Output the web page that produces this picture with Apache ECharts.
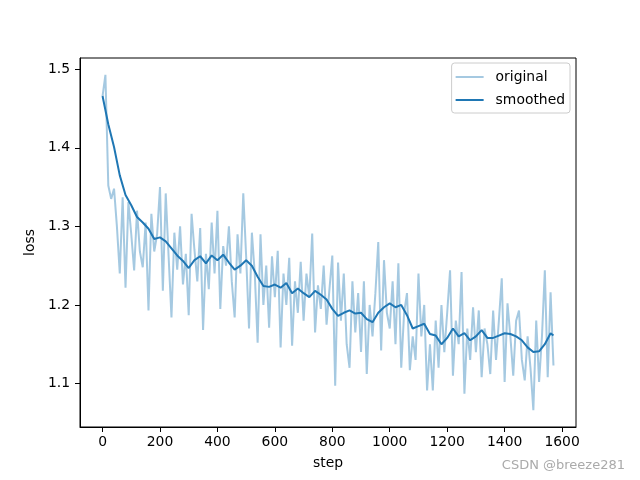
<!DOCTYPE html>
<html><head><meta charset="utf-8">
<script src="https://cdn.jsdelivr.net/npm/echarts@6/dist/echarts.min.js"></script>
<style>html,body{margin:0;padding:0;background:#fff}#c{width:640px;height:480px}</style>
</head><body><div id="c"></div>
<script>
const LOG_INTERVAL = 10;
const originalLoss = [
1.466,1.493,1.352,1.335,1.348,1.300,1.240,1.337,1.222,1.331,
1.290,1.244,1.320,1.268,1.248,1.305,1.193,1.316,1.268,1.290,
1.350,1.218,1.342,1.262,1.184,1.292,1.245,1.300,1.226,1.265,
1.187,1.316,1.270,1.230,1.298,1.168,1.265,1.220,1.305,1.240,
1.320,1.195,1.275,1.250,1.300,1.230,1.184,1.290,1.240,1.342,
1.262,1.170,1.292,1.240,1.152,1.290,1.200,1.250,1.171,1.262,
1.210,1.269,1.146,1.240,1.200,1.260,1.148,1.230,1.190,1.255,
1.180,1.240,1.210,1.291,1.165,1.225,1.195,1.250,1.175,1.220,
1.263,1.097,1.254,1.180,1.240,1.150,1.120,1.230,1.165,1.215,
1.140,1.230,1.112,1.200,1.160,1.215,1.280,1.142,1.257,1.190,
1.170,1.230,1.150,1.253,1.120,1.190,1.215,1.117,1.160,1.130,
1.240,1.160,1.200,1.091,1.150,1.091,1.180,1.120,1.200,1.140,
1.190,1.244,1.110,1.180,1.150,1.242,1.087,1.170,1.130,1.197,
1.140,1.193,1.108,1.170,1.150,1.112,1.193,1.130,1.180,1.234,
1.102,1.202,1.160,1.110,1.180,1.193,1.130,1.104,1.160,1.120,
1.066,1.180,1.102,1.160,1.244,1.108,1.216,1.123
];
const smoothSteps = [
0,20,40,60,80,100,120,140,160,180,200,220,240,260,280,300,320,340,360,380,
400,420,440,460,480,500,520,540,560,580,600,620,640,660,680,700,720,740,760,780,
800,820,840,860,880,900,920,940,960,980,1000,1020,1040,1060,1080,1100,1120,1140,1160,1180,
1200,1220,1240,1260,1280,1300,1320,1340,1360,1380,1400,1420,1440,1460,1480,1500,1520,1540,1560,1570
];
const smoothedLoss = [
1.466,1.430,1.401,1.365,1.340,1.327,1.312,1.305,1.297,1.284,
1.286,1.281,1.272,1.263,1.256,1.247,1.257,1.262,1.253,1.263,
1.257,1.264,1.254,1.245,1.250,1.257,1.250,1.236,1.224,1.223,
1.226,1.222,1.228,1.215,1.221,1.215,1.210,1.218,1.213,1.207,
1.195,1.186,1.190,1.193,1.189,1.190,1.182,1.178,1.190,1.197,
1.202,1.197,1.200,1.187,1.170,1.173,1.176,1.163,1.161,1.150,
1.158,1.170,1.160,1.164,1.155,1.160,1.168,1.158,1.158,1.161,
1.164,1.163,1.160,1.155,1.146,1.140,1.141,1.150,1.164,1.161
];
const xTicks = [0,200,400,600,800,1000,1200,1400,1600];
const yTicks = [1.1,1.2,1.3,1.4,1.5];

const origData = originalLoss.map((v,i)=>[i*LOG_INTERVAL, v]);
const smoothData = smoothedLoss.map((v,i)=>[smoothSteps[i], v]);
const FONT = 'DejaVu Sans';
const FS = 13.9;
const chart = echarts.init(document.getElementById('c'), null, {renderer:'canvas'});
chart.setOption({
  animation:false,
  backgroundColor:'#fff',
  grid:{left:80,right:64,top:58,bottom:53,show:true,borderColor:'#000',borderWidth:1,backgroundColor:'transparent'},
  xAxis:{type:'value',min:-78.5,max:1648.5,
    name:'step',nameLocation:'middle',nameGap:29,nameTextStyle:{fontFamily:FONT,fontSize:FS,color:'#000'},
    axisLine:{show:true,onZero:false,lineStyle:{color:'#000',width:1}},
    axisTick:{show:true,length:5,inside:false,customValues:xTicks,lineStyle:{color:'#000'}},
    axisLabel:{customValues:xTicks,margin:8,fontFamily:FONT,fontSize:FS,color:'#000',formatter:v=>String(v)},
    splitLine:{show:false}},
  yAxis:{type:'value',min:1.0446,max:1.5144,
    name:'loss',nameLocation:'middle',nameGap:37,nameRotate:90,nameTextStyle:{fontFamily:FONT,fontSize:FS,color:'#000'},
    axisLine:{show:true,onZero:false,lineStyle:{color:'#000',width:1}},
    axisTick:{show:true,length:5,inside:false,customValues:yTicks,lineStyle:{color:'#000'}},
    axisLabel:{customValues:yTicks,margin:10,fontFamily:FONT,fontSize:FS,color:'#000',formatter:v=>v.toFixed(1)},
    splitLine:{show:false}},
  legend:{orient:'vertical',right:70,top:63,padding:[7,5,6,4],itemGap:9,itemWidth:28,itemHeight:2,
    icon:'rect',borderColor:'#cccccc',borderWidth:1,borderRadius:3,backgroundColor:'rgba(255,255,255,0.8)',
    textStyle:{fontFamily:FONT,fontSize:FS,color:'#000',padding:[0,0,0,7]},
    data:['original','smoothed']},
  series:[
    {name:'original',type:'line',data:origData,showSymbol:false,symbol:'none',
     lineStyle:{width:2,color:'rgba(31,119,180,0.4)'},itemStyle:{color:'rgba(31,119,180,0.4)'}},
    {name:'smoothed',type:'line',data:smoothData,showSymbol:false,symbol:'none',
     lineStyle:{width:2,color:'#1f77b4'},itemStyle:{color:'#1f77b4'}}
  ],
  graphic:[{type:'text',right:15,top:459,style:{text:'CSDN @breeze281',fontFamily:FONT,fontSize:13,fill:'#aaaaaa'}}]
});
</script></body></html>
